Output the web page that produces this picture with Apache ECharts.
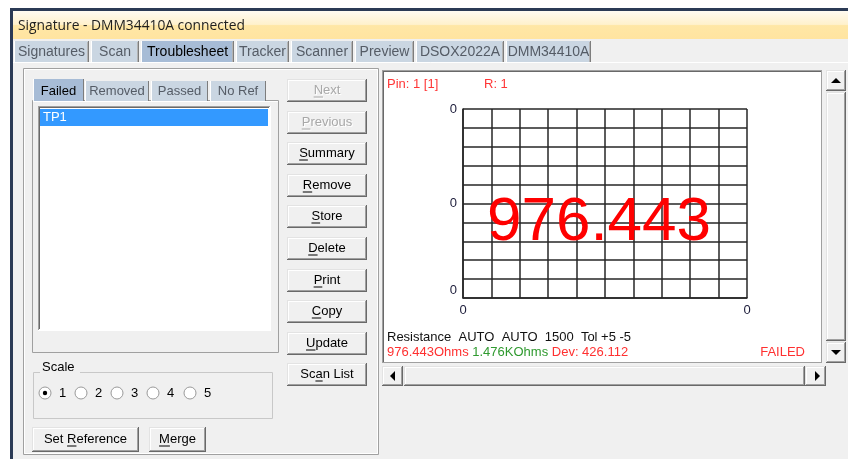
<!DOCTYPE html>
<html>
<head>
<meta charset="utf-8">
<script src="https://cdn.jsdelivr.net/npm/echarts@6/dist/echarts.min.js"></script>
<style>
html, body { margin: 0; padding: 0; background: #fff; }
#main { width: 848px; height: 459px; }
</style>
</head>
<body>
<div id="main"></div>
<script>
// window / tab texts
const windowTitle = 'Signature - DMM34410A connected';
const mainTabs = ['Signatures', 'Scan', 'Troublesheet', 'Tracker', 'Scanner', 'Preview', 'DSOX2022A', 'DMM34410A'];
const subTabs = ['Failed', 'Removed', 'Passed', 'No Ref'];
const failedItems = ['TP1'];
const buttonLabels = ['Next', 'Previous', 'Summary', 'Remove', 'Store', 'Delete', 'Print', 'Copy', 'Update', 'Scan List'];
const buttonMnemonic = [0, 0, 0, 0, 0, 0, 0, 0, 0, 2];
const scaleOptions = ['1', '2', '3', '4', '5'];

// measurement shown in the plot
const pinText = 'Pin: 1 [1]';
const rangeText = 'R: 1';
const reading = 976.443;
const measuredText = '976.443Ohms';
const referenceText = '1.476KOhms';
const deviationText = 'Dev: 426.112';
const statusText = 'FAILED';
const settingsText = 'Resistance  AUTO  AUTO  1500  Tol +5 -5';

// plot grid: 10 x 10 divisions
const gridDivisions = 10;
const xTickValues = [0, 10];
const xTickLabels = ['0', '0'];
const yTickValues = [0, 5, 10];
const yTickLabels = ['0', '0', '0'];

const FONT = '"Liberation Sans", Arial, sans-serif';
const mctx = document.createElement('canvas').getContext('2d');
function tw(s, size) {
	mctx.font = size + 'px ' + FONT;
	return mctx.measureText(s).width;
}

const els = [];
function box(x, y, w, h, fill, stroke, z) {
	els.push({
		type: 'rect', silent: true, z: z == null ? -20 : z,
		shape: { x: x, y: y, width: w, height: h },
		style: { fill: fill || 'none', stroke: stroke || 'none', lineWidth: 1 }
	});
}
function ln(x1, y1, x2, y2, c, z) {
	els.push({
		type: 'line', silent: true, z: z == null ? -15 : z,
		shape: { x1: x1, y1: y1, x2: x2, y2: y2 },
		style: { stroke: c, lineWidth: 1 }
	});
}
function txt(x, y, s, o) {
	o = o || {};
	const st = {
		text: s, fill: o.color || '#000',
		font: (o.weight || 'normal') + ' ' + (o.size || 13) + 'px ' + (o.family || FONT),
		align: o.align || 'left', verticalAlign: o.va || 'middle',
		textAlign: o.align || 'left', textVerticalAlign: o.va || 'middle'
	};
	if (o.rich) st.rich = o.rich;
	els.push({ type: 'text', silent: true, z: o.z == null ? -5 : o.z, x: x, y: y, style: st });
}
function tri(pts, z) {
	els.push({ type: 'polygon', silent: true, z: z == null ? -5 : z, shape: { points: pts }, style: { fill: '#000' } });
}
// classic 3d face
function face(x, y, w, h) {
	box(x, y, w, h, '#f0f0f0');
	ln(x, y + 0.5, x + w - 1, y + 0.5, '#e3e3e3');
	ln(x + 0.5, y, x + 0.5, y + h - 1, '#e3e3e3');
	ln(x + 1, y + 1.5, x + w - 2, y + 1.5, '#ffffff');
	ln(x + 1.5, y + 1, x + 1.5, y + h - 2, '#ffffff');
	ln(x, y + h - 0.5, x + w, y + h - 0.5, '#696969');
	ln(x + w - 0.5, y, x + w - 0.5, y + h, '#696969');
	ln(x + 1, y + h - 1.5, x + w - 1, y + h - 1.5, '#a0a0a0');
	ln(x + w - 1.5, y + 1, x + w - 1.5, y + h - 1, '#a0a0a0');
}
function button(x, y, w, h, label, ul, disabled) {
	face(x, y, w, h);
	const cx = x + w / 2, cy = y + h / 2;
	const full = tw(label, 13);
	const ux = cx - full / 2 + tw(label.slice(0, ul), 13);
	const uw = tw(label[ul], 13);
	if (disabled) {
		txt(cx + 1, cy + 1, label, { align: 'center', color: '#ffffff' });
		ln(ux + 1, cy + 7.5, ux + uw + 1, cy + 7.5, '#ffffff', -5);
	}
	const c = disabled ? '#a8a8a8' : '#000';
	txt(cx, cy, label, { align: 'center', color: c });
	ln(ux, cy + 6.5, ux + uw, cy + 6.5, c, -5);
}

// window frame
box(10, 8, 838, 451, '#2b3a55');
box(13, 11, 835, 448, '#f0f0f0');
els.push({
	type: 'rect', silent: true, z: -19,
	shape: { x: 13, y: 11, width: 835, height: 28 },
	style: {
		fill: new echarts.graphic.LinearGradient(0, 0, 0, 1, [
			{ offset: 0, color: '#fffbf2' },
			{ offset: 0.48, color: '#fff1cc' },
			{ offset: 0.52, color: '#ffe7a6' },
			{ offset: 1, color: '#ffe4a0' }
		])
	}
});
txt(18, 26, windowTitle, { size: 13.8, family: '"Open Sans", sans-serif', color: '#1e1e1e' });

// main tabs
const mainTabEdges = [[14, 89], [91, 139], [141, 234], [236, 289], [291, 353], [355, 414], [416, 504], [506, 591]];
const mainTabSel = 2;
ln(13, 62.5, 848, 62.5, '#ffffff');
mainTabs.forEach(function (t, i) {
	const e = mainTabEdges[i];
	const sel = i === mainTabSel;
	box(e[0], 41, e[1] - e[0], 21, sel ? '#a7bcd6' : '#cad6e2');
	ln(e[0] + 0.5, 41, e[0] + 0.5, 62, '#ffffff');
	ln(e[1] - 0.5, 41, e[1] - 0.5, 62, '#7d7d7d');
	ln(e[1] - 1.5, 42, e[1] - 1.5, 62, '#b4b4b4');
	txt((e[0] + e[1]) / 2, 52, t, { align: 'center', size: 14, color: sel ? '#000' : '#555c66' });
});

// left panel frame
box(23.5, 68.5, 355, 386, null, '#a0a0a0');
box(24.5, 69.5, 353, 384, null, '#ffffff');

// sub tabs
const subTabEdges = [[33, 84], [85, 149], [151, 208], [210, 266]];
box(32.5, 100.5, 246, 252, null, '#a0a0a0');
ln(33, 101.5, 278, 101.5, '#ffffff');
subTabs.forEach(function (t, i) {
	const e = subTabEdges[i];
	const sel = i === 0;
	const top = sel ? 79 : 81;
	box(e[0], top, e[1] - e[0], 101 - top, sel ? '#a7bcd6' : '#cad6e2');
	ln(e[0] + 0.5, top, e[0] + 0.5, 101, '#ffffff');
	ln(e[1] - 0.5, top, e[1] - 0.5, 101, '#7d7d7d');
	txt((e[0] + e[1]) / 2, 91, t, { align: 'center', color: sel ? '#000' : '#555c66' });
});

// list box
box(38, 106, 233, 225, '#ffffff');
ln(38, 106.5, 270, 106.5, '#a0a0a0');
ln(38.5, 106, 38.5, 330, '#a0a0a0');
ln(39, 107.5, 269, 107.5, '#696969');
ln(39.5, 107, 39.5, 329, '#696969');
ln(38, 330.5, 271, 330.5, '#ffffff');
ln(270.5, 106, 270.5, 331, '#ffffff');
failedItems.forEach(function (t, i) {
	box(40, 109 + i * 17, 228, 17, '#3399ff', null, -14);
	txt(43, 117.5 + i * 17, t, { color: '#ffffff' });
});

// buttons column
buttonLabels.forEach(function (t, i) {
	button(287, 79 + Math.round(i * 31.6), 80, 23, t, buttonMnemonic[i], i < 2);
});

// scale group
box(33.5, 372.5, 239, 46, null, '#c8c8c8');
box(34.5, 373.5, 239, 46, null, '#ffffff', -21);
box(40, 364, 40, 16, '#f0f0f0', null, -14);
txt(42, 367, 'Scale');
const radioX = [45, 81, 117, 153, 190];
scaleOptions.forEach(function (t, i) {
	els.push({
		type: 'circle', silent: true, z: -8,
		shape: { cx: radioX[i], cy: 393, r: 6 },
		style: { fill: '#ffffff', stroke: '#9a9a9a', lineWidth: 1 }
	});
	if (i === 0) {
		els.push({
			type: 'circle', silent: true, z: -7,
			shape: { cx: radioX[i], cy: 393, r: 2.2 },
			style: { fill: '#000' }
		});
	}
	txt(radioX[i] + 14, 393, t);
});
button(32, 427, 107, 25, 'Set Reference', 4, false);
button(149, 427, 57, 25, 'Merge', 0, false);

// plot panel
box(382, 70, 440, 293, '#ffffff');
ln(382, 70.5, 822, 70.5, '#a0a0a0');
ln(382.5, 70, 382.5, 363, '#a0a0a0');
ln(383, 71.5, 821, 71.5, '#696969');
ln(383.5, 71, 383.5, 362, '#696969');
ln(821.5, 70, 821.5, 363, '#a0a0a0');
ln(382, 362.5, 822, 362.5, '#a0a0a0');
txt(387, 84, pinText, { color: '#ff3636' });
txt(484, 84, rangeText, { color: '#ff3636' });
txt(387, 337, settingsText, { color: '#111' });
txt(387, 352, '{r|' + measuredText + '} {g|' + referenceText + '} {r|' + deviationText + '}', {
	rich: {
		r: { fill: '#ff3030', font: '13px ' + FONT },
		g: { fill: '#2f9a2f', font: '13px ' + FONT }
	}
});
txt(805, 352, statusText, { color: '#ff3030', align: 'right' });
txt(599, 223, reading.toFixed(3), { size: 62, color: '#ff0000', align: 'center', z: 50 });

// vertical scrollbar
box(826, 70, 20, 293, '#e8e8e8');
face(826, 70, 20, 21);
tri([[831, 83], [841, 83], [836, 78]]);
face(826, 92, 20, 249);
face(826, 342, 20, 21);
tri([[831, 350], [841, 350], [836, 355]]);
// horizontal scrollbar
box(382, 366, 444, 20, '#e8e8e8');
face(382, 366, 21, 20);
tri([[390, 376], [395, 371], [395, 381]]);
face(404, 366, 401, 20);
face(805, 366, 21, 20);
tri([[815, 371], [815, 381], [820, 376]]);

function tickLabel(values, labels) {
	return function (v) {
		const i = values.indexOf(v);
		return i >= 0 ? labels[i] : '';
	};
}
const gridLine = { color: '#262626', width: 1.5 };

const chart = echarts.init(document.getElementById('main'));
chart.setOption({
	backgroundColor: '#ffffff',
	animation: false,
	grid: { left: 463, top: 109, width: 284, height: 189 },
	xAxis: {
		type: 'value', min: 0, max: gridDivisions, interval: 1,
		axisLine: { show: true, onZero: false, lineStyle: gridLine },
		axisTick: { show: false },
		splitLine: { show: true, lineStyle: gridLine },
		axisLabel: {
			formatter: tickLabel(xTickValues, xTickLabels),
			color: '#1c1c3a', fontSize: 13, fontFamily: FONT, margin: 6,
			showMinLabel: true, showMaxLabel: true
		}
	},
	yAxis: {
		type: 'value', min: 0, max: gridDivisions, interval: 1,
		axisLine: { show: true, onZero: false, lineStyle: gridLine },
		axisTick: { show: false },
		splitLine: { show: true, lineStyle: gridLine },
		axisLabel: {
			formatter: function (v) {
				const s = tickLabel(yTickValues, yTickLabels)(v);
				return v === 0 && s ? '{lo|' + s + '}' : s;
			},
			rich: { lo: { padding: [0, 0, 16, 0], fontSize: 13, fontFamily: FONT, color: '#1c1c3a' } },
			color: '#1c1c3a', fontSize: 13, fontFamily: FONT, margin: 6,
			showMinLabel: true, showMaxLabel: true
		}
	},
	series: [{ type: 'line', data: [] }],
	graphic: { elements: els }
});
</script>
</body>
</html>
